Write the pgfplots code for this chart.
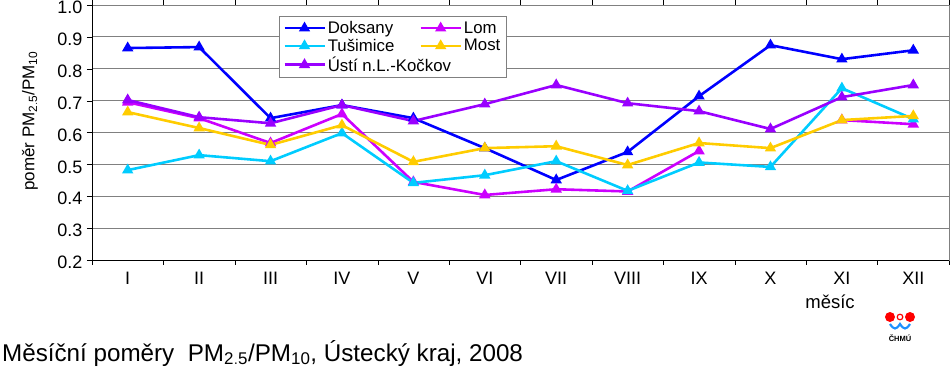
\documentclass[border=0pt]{standalone}
\usepackage{pgfplots}
\pgfplotsset{compat=1.18}
\usepackage{fontspec}
\setmainfont{Liberation Sans}
\definecolor{cDok}{HTML}{0000FF}
\definecolor{cLom}{HTML}{CC00FF}
\definecolor{cTus}{HTML}{00CCFF}
\definecolor{cMost}{HTML}{FFCC00}
\definecolor{cUsti}{HTML}{9900FF}
\definecolor{cGrid}{HTML}{808080}
\definecolor{logoRed}{HTML}{FF0000}
\definecolor{logoBlue}{HTML}{1E90FF}
\begin{document}
\begin{tikzpicture}
\path[use as bounding box] (-92bp,-111bp) rectangle (858bp,260bp);
\begin{axis}[
  at={(0,0)}, anchor=south west,
  scale only axis, width=857bp, height=255bp,
  xmin=-0.5, xmax=11.5, ymin=0.2, ymax=1.0,
  ytick={0.2,0.3,...,1.0},
  xtick={0,...,11},
  xticklabels={I,II,III,IV,V,VI,VII,VIII,IX,X,XI,XII},
  minor xtick={-0.5,0.5,...,11.5},
  major x tick style={draw=none},
  minor x tick style={draw=black},
  tick align=outside,
  major tick length=5bp, minor tick length=5bp,
  ymajorgrids, major grid style={cGrid, line width=0.8pt},
  axis line style={cGrid, line width=0.8pt},
  ytick style={black},
  /pgf/number format/assume math mode=true,
  yticklabel style={/pgf/number format/fixed, /pgf/number format/precision=1, /pgf/number format/fixed zerofill},
  ticklabel style={font=\fontsize{18bp}{21bp}\selectfont},
  yticklabel style={xshift=-1bp, yshift=-2.5bp},
  xticklabel style={yshift=-4bp},
  unbounded coords=jump,
  legend columns=2,
  legend style={at={(0.218,0.957)}, anchor=north west, draw=cGrid, line width=0.8pt,
    font=\fontsize{16.8bp}{18bp}\selectfont, inner xsep=4bp, inner ysep=3bp,
    row sep=0bp, /tikz/every even column/.append style={column sep=23bp}},
  legend cell align=left,
  legend image code/.code={
    \draw[#1, mark=none] (0bp,0bp) -- (40bp,0bp);
    \draw[#1, only marks] plot coordinates {(20bp,0bp)};
  },
  every axis plot/.append style={line width=2.6pt, mark=triangle*, mark size=4bp, mark options={line width=0.5pt}},
  clip=false,
]
\addplot[cDok, mark options={fill=cDok}] coordinates {(0,0.865) (1,0.868) (2,0.645) (3,0.686) (4,0.645) (5,0.551) (6,0.451) (7,0.539) (8,0.714) (9,0.874) (10,0.830) (11,0.858)};
\addlegendentry{Doksany}
\addplot[cLom, mark options={fill=cLom}] coordinates {(0,0.695) (1,0.645) (2,0.567) (3,0.658) (4,0.445) (5,0.404) (6,0.422) (7,0.415) (8,0.542) (9,nan) (10,0.639) (11,0.626)};
\addlegendentry{Lom}
\addplot[cTus, mark options={fill=cTus}] coordinates {(0,0.482) (1,0.529) (2,0.510) (3,0.598) (4,0.442) (5,0.466) (6,0.510) (7,0.417) (8,0.506) (9,0.492) (10,0.739) (11,0.642)};
\addlegendentry{Tušimice}
\addplot[cMost, mark options={fill=cMost}] coordinates {(0,0.664) (1,0.614) (2,0.561) (3,0.623) (4,0.508) (5,0.551) (6,0.557) (7,0.498) (8,0.567) (9,0.551) (10,0.639) (11,0.652)};
\addlegendentry{Most}
\addplot[cUsti, mark options={fill=cUsti}] coordinates {(0,0.702) (1,0.648) (2,0.629) (3,0.686) (4,0.636) (5,0.689) (6,0.749) (7,0.692) (8,0.667) (9,0.611) (10,0.711) (11,0.749)};
\addlegendentry{\makebox[0pt][l]{Ústí n.L.-Kočkov}}
\draw[black, line width=0.8pt] (rel axis cs:0,0) -- (rel axis cs:0,1);
\draw[black, line width=0.8pt] (rel axis cs:0,0) -- (rel axis cs:1,0);
\end{axis}
\node[rotate=90, font=\fontsize{17bp}{20bp}\selectfont] at (-62bp,139bp) {poměr PM$_{\mathrm{2.5}}$/PM$_{\mathrm{10}}$};
\node[anchor=base, font=\fontsize{18.5bp}{21bp}\selectfont] at (738bp,-48bp) {měsíc};
\node[anchor=base west, inner sep=0pt, font=\fontsize{24.2bp}{27bp}\selectfont] at (-90bp,-101bp) {Měsíční poměry\ \ PM$_{\mathrm{2.5}}$/PM$_{\mathrm{10}}$, Ústecký kraj, 2008};
% CHMU logo
\fill[logoRed] (798bp,-57bp) circle (5bp);
\fill[logoRed] (818bp,-57bp) circle (5bp);
\draw[logoRed, line width=1.2pt] (808bp,-57bp) circle (2.8bp);
\draw[logoBlue, line width=2.2pt] (798bp,-64bp) .. controls (802bp,-70bp) and (804bp,-70bp) .. (808bp,-64bp) .. controls (812bp,-70bp) and (814bp,-70bp) .. (818bp,-64bp);
\node[font=\bfseries\fontsize{7.5bp}{8bp}\selectfont, inner sep=0pt] at (808bp,-78bp) {ČHMÚ};
\end{tikzpicture}
\end{document}
